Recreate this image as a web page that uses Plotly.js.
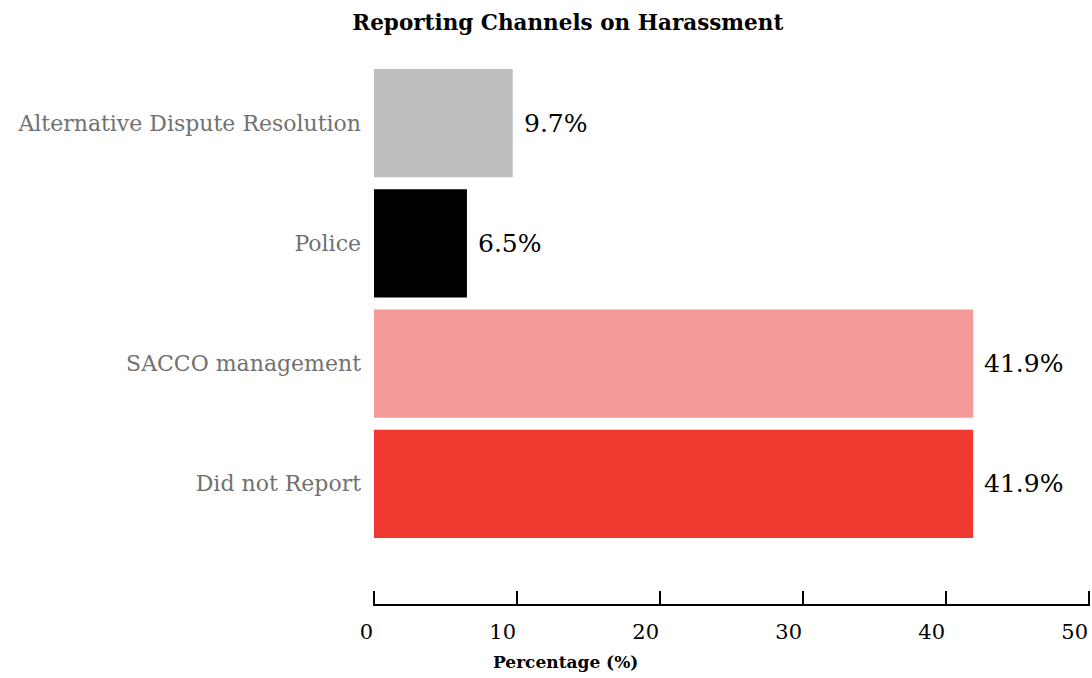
<!DOCTYPE html>
<html>
<head>
<meta charset="utf-8">
<script src="https://cdn.plot.ly/plotly-3.0.1.min.js"></script>
<style>
  html, body { margin: 0; padding: 0; background: #fff; }
  #chart { width: 1092px; height: 678px; }
</style>
</head>
<body>
<div id="chart"></div>
<script>
// Reporting channels used by respondents who experienced harassment
const channels = ["Did not Report", "SACCO management", "Police", "Alternative Dispute Resolution"];
const percentages = [41.9, 41.9, 6.5, 9.7];
const barColors = ["#EE3830", "#F49A98", "#000000", "#BDBEC0"];
const xTicks = [0, 10, 20, 30, 40, 50];

const serif = "DejaVu Serif, Liberation Serif, serif";

const trace = {
  type: "bar",
  orientation: "h",
  y: channels,
  x: percentages,
  marker: { color: barColors, line: { width: 0 } },
  hoverinfo: "x+y"
};

// value labels placed just past the end of each bar
const valueLabels = channels.map((c, i) => ({
  x: percentages[i],
  y: c,
  xref: "x",
  yref: "y",
  text: percentages[i].toFixed(1) + "%",
  showarrow: false,
  xanchor: "left",
  yanchor: "middle",
  xshift: 9,
  font: { family: serif, size: 25, color: "#000" }
}));

// upward tick marks standing on the x axis line, one per tick value
const tickMarks = xTicks.map(v => ({
  type: "line",
  layer: "above",
  xref: "x",
  yref: "paper",
  ysizemode: "pixel",
  yanchor: 0,
  x0: v, x1: v,
  y0: 0, y1: 13,
  line: { color: "#000", width: 2 }
}));

const layout = {
  width: 1092,
  height: 678,
  margin: { l: 373, r: 2, t: 63, b: 74 },
  paper_bgcolor: "#fff",
  plot_bgcolor: "#fff",
  showlegend: false,
  bargap: 0.1,
  title: {
    text: "<b>Reporting Channels on Harassment</b>",
    font: { family: serif, size: 21.5, color: "#000" },
    x: 0.52, xanchor: "center", y: 0.967, yanchor: "middle"
  },
  xaxis: {
    range: [-0.07, 50.07],
    tickvals: xTicks,
    ticktext: xTicks.map(String),
    showgrid: false,
    zeroline: false,
    showline: true,
    linecolor: "#000",
    linewidth: 2,
    ticks: "",
    ticklabelposition: "outside left",
    ticklabelstandoff: 8,
    tickfont: { family: serif, size: 21, color: "#000" }
  },
  yaxis: {
    type: "category",
    categoryorder: "array",
    categoryarray: channels,
    range: [-1, 3.5],
    showgrid: false,
    zeroline: false,
    showline: false,
    ticks: "",
    ticklabelstandoff: 11,
    tickfont: { family: serif, size: 22, color: "#717171" }
  },
  shapes: tickMarks,
  annotations: valueLabels.concat([{
    text: "<b>Percentage (%)</b>",
    xref: "paper", yref: "paper",
    x: 0.2685, y: -0.108,
    xanchor: "center", yanchor: "middle",
    showarrow: false,
    font: { family: serif, size: 17, color: "#000" }
  }])
};

Plotly.newPlot("chart", [trace], layout, { displayModeBar: false, staticPlot: true });
</script>
</body>
</html>
